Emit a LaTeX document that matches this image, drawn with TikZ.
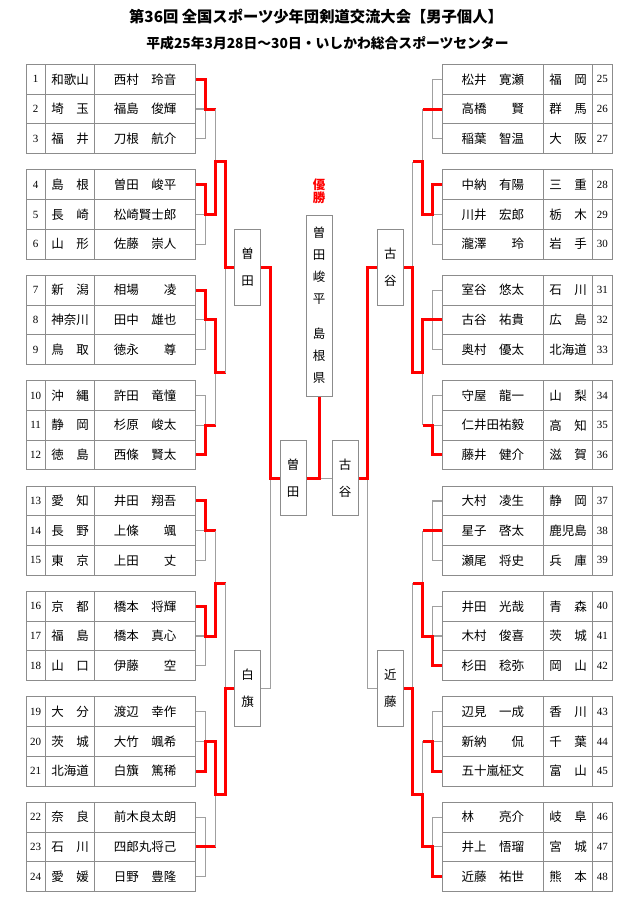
\documentclass[tikz,border=0pt]{standalone}
\usepackage{fontspec}
\setmainfont{Noto Sans CJK JP}
\newfontfamily\numfont{Liberation Serif}
\usetikzlibrary{calc}

\definecolor{cellgray}{HTML}{8C8C8C}
\definecolor{linegray}{HTML}{A0A0A0}
\definecolor{winred}{HTML}{FF0000}

\tikzset{
  cell/.style={draw=cellgray, line width=1pt, inner sep=0pt, minimum height=29.7pt,
    font=\fontsize{12.5}{14}\selectfont},
  numcell/.style={cell, minimum width=19.3pt, font=\numfont\fontsize{11}{12}\selectfont},
  prefcell/.style={cell, minimum width=49.4pt},
  namecell/.style={cell, minimum width=101pt},
  tallbox/.style={draw=cellgray, line width=1pt, inner sep=0pt, minimum width=26pt,
    align=center, font=\fontsize{12.5}{27}\selectfont},
  bline/.style={linegray, line width=1.2pt},
  win/.style={winred, line width=3pt},
}

\begin{document}
\begin{tikzpicture}[x=1pt, y=-1pt]
  \useasboundingbox (0,0) rectangle (640,905);
  \node[font=\bfseries\fontsize{15.3}{17}\selectfont] (title) at (316,17)
    {第36回 全国スポーツ少年団剣道交流大会【男子個人】};
  \node[font=\bfseries\fontsize{13.8}{15}\selectfont] (subtitle) at (327.5,43.5)
    {平成25年3月28日～30日・いしかわ総合スポーツセンター};

  % left entries
  \foreach \nr/\pf/\nm [count=\i from 0] in {
      1/和歌山/西村　玲音, 2/埼　玉/福島　俊輝, 3/福　井/刀根　航介,
      4/島　根/曽田　峻平, 5/長　崎/松崎賢士郎, 6/山　形/佐藤　崇人,
      7/新　潟/相場　　凌, 8/神奈川/田中　雄也, 9/鳥　取/徳永　　尊,
      10/沖　縄/許田　竜憧, 11/静　岡/杉原　峻太, 12/徳　島/西條　賢太,
      13/愛　知/井田　翔吾, 14/長　野/上條　　颯, 15/東　京/上田　　丈,
      16/京　都/橋本　将輝, 17/福　島/橋本　真心, 18/山　口/伊藤　　空,
      19/大　分/渡辺　幸作, 20/茨　城/大竹　颯希, 21/北海道/白籏　篤稀,
      22/奈　良/前木良太朗, 23/石　川/四郎丸将己, 24/愛　媛/日野　豊隆}{
    \pgfmathsetmacro{\y}{79.35+105.4*int(\i/3)+29.7*mod(\i,3)}
    \node[numcell] (N\nr) at (35.65,\y) {\nr};
    \node[prefcell] (P\nr) at (70,\y) {\pf};
    \node[namecell] (E\nr) at (145.2,\y) {\nm};
  }
  % right entries
  \foreach \nr/\pf/\nm [count=\i from 0] in {
      25/福　岡/松井　寛瀬, 26/群　馬/高橋　　賢, 27/大　阪/稲葉　智温,
      28/三　重/中納　有陽, 29/栃　木/川井　宏郎, 30/岩　手/瀧澤　　玲,
      31/石　川/室谷　悠太, 32/広　島/古谷　祐貴, 33/北海道/奥村　優太,
      34/山　梨/守屋　龍一, 35/高　知/仁井田祐毅, 36/滋　賀/藤井　健介,
      37/静　岡/大村　凌生, 38/鹿児島/星子　啓太, 39/兵　庫/瀬尾　将史,
      40/青　森/井田　光哉, 41/茨　城/木村　俊喜, 42/岡　山/杉田　稔弥,
      43/香　川/辺見　一成, 44/千　葉/新納　　侃, 45/富　山/五十嵐柾文,
      46/岐　阜/林　　亮介, 47/宮　城/井上　悟瑠, 48/熊　本/近藤　祐世}{
    \pgfmathsetmacro{\y}{79.35+105.4*int(\i/3)+29.7*mod(\i,3)}
    \node[namecell] (E\nr) at (492.8,\y) {\nm};
    \node[prefcell] (P\nr) at (568,\y) {\pf};
    \node[numcell] (N\nr) at (602.35,\y) {\nr};
  }

  % left groups of three
  \foreach \a/\w [count=\g] in {1/1,4/4,7/7,10/12,13/13,16/16,19/21,22/23}{
    \pgfmathtruncatemacro{\b}{\a+1}
    \pgfmathtruncatemacro{\c}{\a+2}
    \coordinate (GL\g) at ($(E\b.east)+(9.3,0)$);
    \draw[bline] (E\a.east) -| (GL\g) -- ++(10,0) coordinate (OL\g);
    \draw[bline] (E\b.east) -- (GL\g);
    \draw[bline] (E\c.east) -| (GL\g);
    \draw[win] (E\w.east) -| (GL\g) -- (OL\g);
  }
  % right groups of three
  \foreach \a/\w [count=\g] in {25/26,28/28,31/32,34/36,37/38,40/42,43/45,46/48}{
    \pgfmathtruncatemacro{\b}{\a+1}
    \pgfmathtruncatemacro{\c}{\a+2}
    \coordinate (GR\g) at ($(E\b.west)+(-9.3,0)$);
    \draw[bline] (E\a.west) -| (GR\g) -- ++(-10,0) coordinate (OR\g);
    \draw[bline] (E\b.west) -- (GR\g);
    \draw[bline] (E\c.west) -| (GR\g);
    \draw[win] (E\w.west) -| (GR\g) -- (OR\g);
  }

  % pairs of groups
  \foreach \p/\u/\v/\w in {1/1/2/2,2/3/4/3,3/5/6/6,4/7/8/7}{
    \coordinate (PL\p) at ($(OL\u)!0.5!(OL\v)$);
    \draw[bline] (OL\u) -- (OL\v);
    \draw[bline] (PL\p) -- ++(10,0) coordinate (QL\p);
    \draw[win] (GL\w) -- (OL\w) -- (PL\p) -- (QL\p);
  }
  \foreach \p/\u/\v/\w in {1/1/2/2,2/3/4/3,3/5/6/6,4/7/8/8}{
    \coordinate (PR\p) at ($(OR\u)!0.5!(OR\v)$);
    \draw[bline] (OR\u) -- (OR\v);
    \draw[bline] (PR\p) -- ++(-10,0) coordinate (QR\p);
    \draw[win] (GR\w) -- (OR\w) -- (PR\p) -- (QR\p);
  }

  % boxes
  \node[tallbox, minimum height=76pt] (SL1) at (247.7,267.3) {曽\\田};
  \node[tallbox, minimum height=76pt] (SL2) at (247.7,688.7) {白\\旗};
  \node[tallbox, minimum height=76pt] (SR1) at (390.3,267.3) {古\\谷};
  \node[tallbox, minimum height=76pt] (SR2) at (390.3,688.7) {近\\藤};
  \node[tallbox, minimum height=75.3pt] (FL) at (293,478.3) {曽\\田};
  \node[tallbox, minimum height=75.3pt] (FR) at (345,478.3) {古\\谷};
  \node[tallbox, minimum height=181pt, font=\fontsize{12.5}{22}\selectfont] (CH) at (319,305.5)
    {曽\\田\\峻\\平\\[13pt]島\\根\\県};
  \node[winred, align=center, font=\bfseries\fontsize{12.5}{13.5}\selectfont] (yusho) at (319,191.3) {優\\勝};

  % quarters
  \draw[bline] (QL1) -- (QL2);
  \draw[bline] (QL3) -- (QL4);
  \draw[bline] (QR1) -- (QR2);
  \draw[bline] (QR3) -- (QR4);
  \draw[win] (PL1) -- (QL1) -- (QL1 |- SL1.west) -- (SL1.west);
  \draw[win] (PL4) -- (QL4) -- (QL4 |- SL2.west) -- (SL2.west);
  \draw[win] (PR2) -- (QR2) -- (QR2 |- SR1.east) -- (SR1.east);
  \draw[win] (PR4) -- (QR4) -- (QR4 |- SR2.east) -- (SR2.east);

  % semis
  \draw[bline] (SL1.east) -- ++(9.3,0) coordinate (TL1);
  \draw[bline] (SL2.east) -- ++(9.3,0) coordinate (TL2);
  \draw[bline] (TL1) -- (TL2);
  \draw[bline] (SR1.west) -- ++(-9.3,0) coordinate (TR1);
  \draw[bline] (SR2.west) -- ++(-9.3,0) coordinate (TR2);
  \draw[bline] (TR1) -- (TR2);
  \draw[win] (SL1.east) -- (TL1) -- (TL1 |- FL.west) -- (FL.west);
  \draw[win] (SR1.west) -- (TR1) -- (TR1 |- FR.east) -- (FR.east);

  % final
  \draw[bline] (FL.east) -- (FR.west);
  \draw[win] (FL.east) -- (FL.east -| CH.south) -- (CH.south);
\end{tikzpicture}
\end{document}
